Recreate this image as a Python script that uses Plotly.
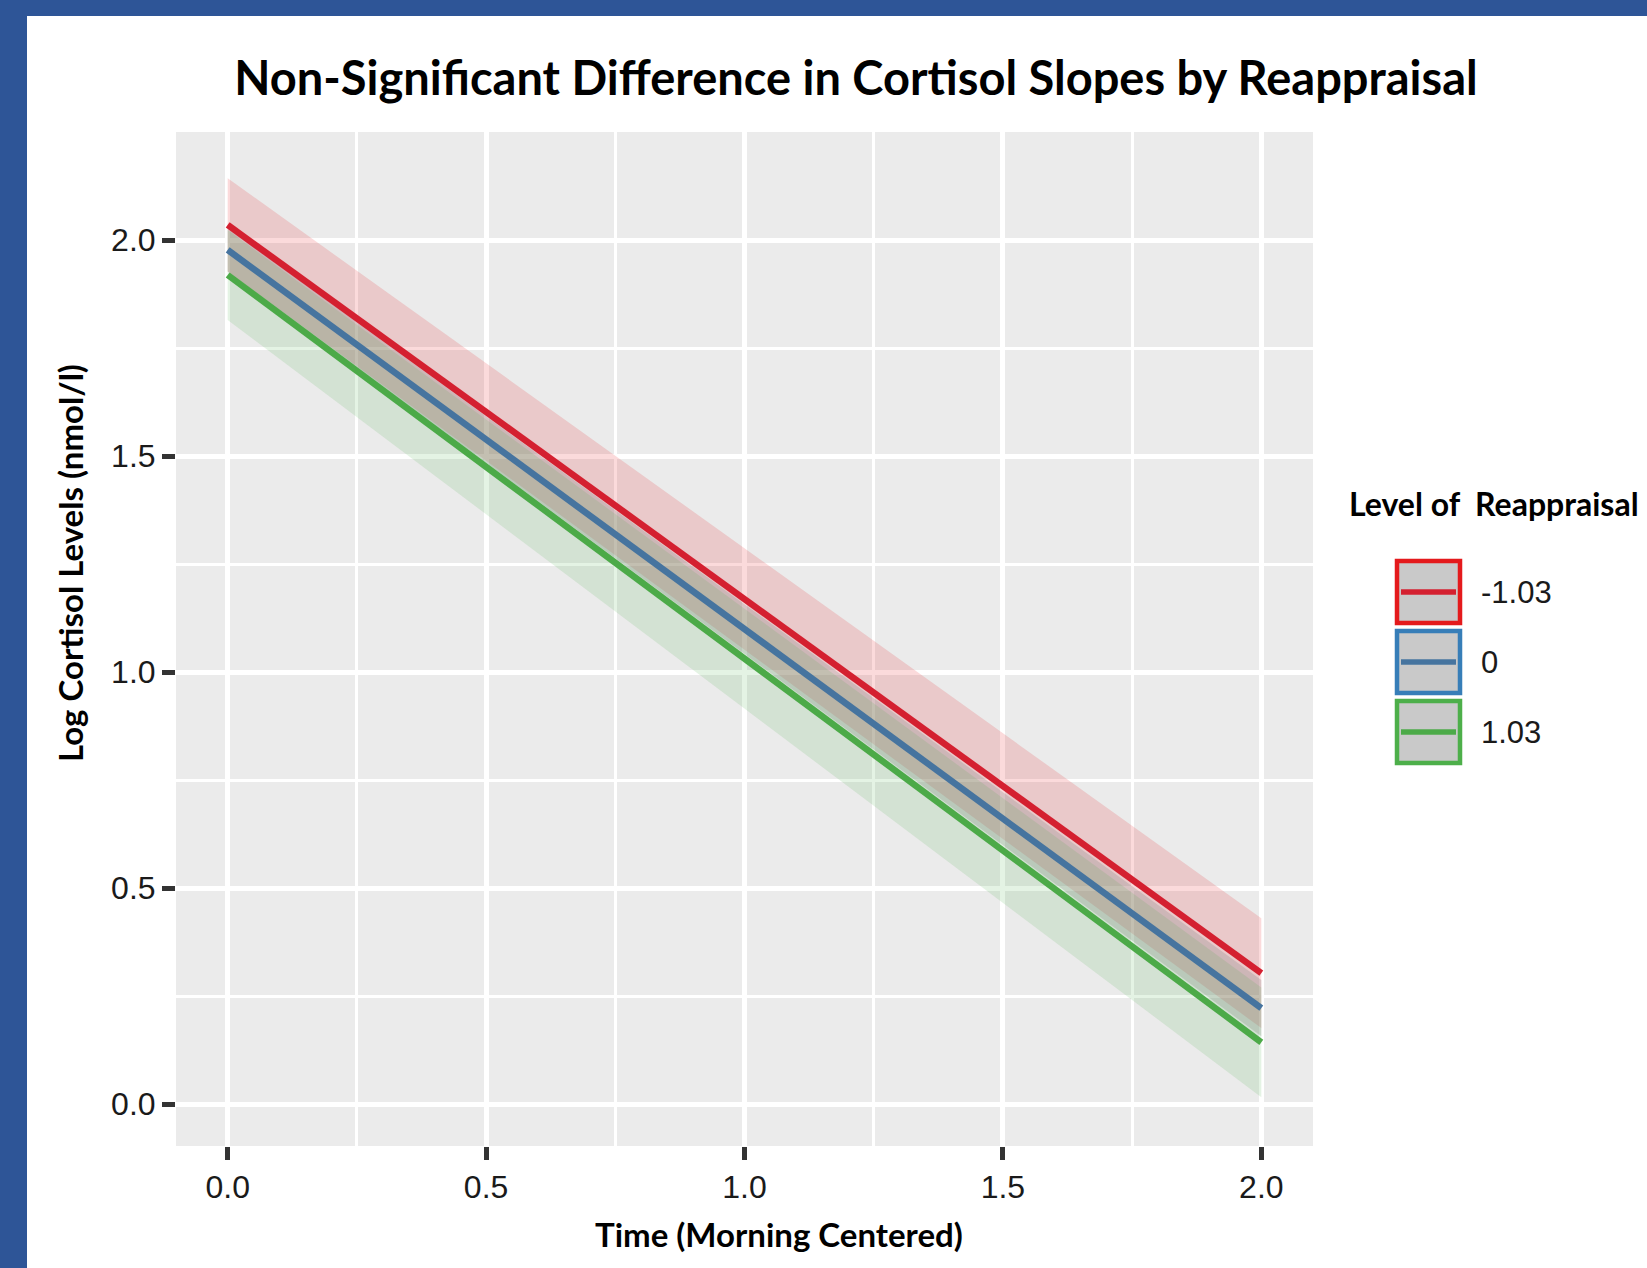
import plotly.graph_objects as go

# ---- data ----
times = [0.0, 2.0]
levels = ["-1.03", "0", "1.03"]
fit_red = [2.035, 0.303]
fit_blue = [1.977, 0.222]
fit_green = [1.919, 0.143]
se_red = [0.108, 0.127]
se_blue = [0.05, 0.065]
se_green = [0.104, 0.127]

x_ticks = [0.0, 0.5, 1.0, 1.5, 2.0]
x_tick_text = ["0.0", "0.5", "1.0", "1.5", "2.0"]
y_ticks = [0.0, 0.5, 1.0, 1.5, 2.0]
y_tick_text = ["0.0", "0.5", "1.0", "1.5", "2.0"]

line_colors = ["#D42030", "#46749F", "#4CAA48"]
key_border = ["#E41A1C", "#377EB8", "#4DAF4A"]
ribbon_fills = ["rgba(228,26,28,0.16)", "rgba(140,140,140,0.30)", "rgba(77,175,74,0.15)"]

fits = [fit_red, fit_blue, fit_green]
ses = [se_red, se_blue, se_green]

W, H = 1647, 1268
ML, MR, MT, MB = 176, W - 1313, 132, H - 1146
PW, PH = W - ML - MR, H - MT - MB


def px(xp):
    return (xp - ML) / PW


def py(yp):
    return (H - MB - yp) / PH


fig = go.Figure()

for fit, se, fc in zip(fits, ses, ribbon_fills):
    upper = [f + s for f, s in zip(fit, se)]
    lower = [f - s for f, s in zip(fit, se)]
    fig.add_trace(go.Scatter(
        x=times + times[::-1], y=upper + lower[::-1],
        fill="toself", fillcolor=fc, line=dict(width=0),
        mode="lines", hoverinfo="skip", showlegend=False))

for fit, lc, name in zip(fits, line_colors, levels):
    fig.add_trace(go.Scatter(x=times, y=fit, mode="lines",
                             line=dict(color=lc, width=6.5), name=name,
                             showlegend=False))

shapes = []
# blue frame
shapes.append(dict(type="rect", xref="paper", yref="paper", x0=px(0), x1=px(27),
                   y0=py(H), y1=py(0), fillcolor="#2E5597", line=dict(width=0), layer="above"))
shapes.append(dict(type="rect", xref="paper", yref="paper", x0=px(0), x1=px(W),
                   y0=py(16), y1=py(0), fillcolor="#2E5597", line=dict(width=0), layer="above"))

annotations = []
# legend (manual keys)
key_tops = [559, 629, 699]
key_h = 66
for i, (lab, bc, lc) in enumerate(zip(levels, key_border, line_colors)):
    t = key_tops[i]
    shapes.append(dict(type="rect", xref="paper", yref="paper",
                       x0=px(1397), x1=px(1460), y0=py(t + key_h - 2), y1=py(t + 2),
                       fillcolor="#C9C9C9", line=dict(color=bc, width=4.5), layer="above"))
    cy = t + key_h / 2
    shapes.append(dict(type="line", xref="paper", yref="paper",
                       x0=px(1401), x1=px(1456), y0=py(cy), y1=py(cy),
                       line=dict(color=lc, width=5.5), layer="above"))
    annotations.append(dict(text=lab, xref="paper", yref="paper", x=px(1479), y=py(cy),
                            xanchor="left", yanchor="middle", showarrow=False,
                            font=dict(family="Liberation Sans", size=31, color="#1a1a1a")))

annotations.append(dict(text="Level of\u00a0\u00a0Reappraisal", xref="paper", yref="paper",
                        x=px(1347), y=py(503), xanchor="left", yanchor="middle", showarrow=False,
                        font=dict(family="Lato", size=32, color="#000000", weight="bold")))

# axis titles
annotations.append(dict(text="Time (Morning Centered)", xref="paper", yref="paper",
                        x=px(779), y=py(1234), xanchor="center", yanchor="middle", showarrow=False,
                        font=dict(family="Lato", size=33, color="#000000", weight="bold")))
annotations.append(dict(text="Log Cortisol Levels (nmol/l)", xref="paper", yref="paper",
                        x=px(70), y=py(563), xanchor="center", yanchor="middle", showarrow=False,
                        textangle=-90,
                        font=dict(family="Lato", size=33, color="#000000", weight="bold")))

fig.update_layout(
    width=W, height=H,
    margin=dict(l=ML, r=MR, t=MT, b=MB),
    paper_bgcolor="white", plot_bgcolor="#EBEBEB",
    title=dict(text="Non-Significant Difference in Cortisol Slopes by Reappraisal",
               x=856 / W, xanchor="center", y=1 - 79 / H, yanchor="middle",
               font=dict(family="Lato", size=47, color="#000000", weight="bold")),
    shapes=shapes, annotations=annotations, showlegend=False,
)

fig.update_xaxes(range=[-0.1, 2.1], tickvals=x_ticks, ticktext=x_tick_text,
                 showgrid=True, gridcolor="white", gridwidth=4.5, zeroline=False,
                 ticks="outside", ticklen=13, tickwidth=4.5, tickcolor="#333333",
                 tickfont=dict(family="Liberation Sans", size=32, color="#1a1a1a"),
                 minor=dict(tickvals=[0.25, 0.75, 1.25, 1.75], showgrid=True,
                            gridcolor="white", gridwidth=2.5, ticks=""),
                 showline=False)
fig.update_yaxes(range=[-0.097, 2.25], tickvals=y_ticks, ticktext=y_tick_text,
                 showgrid=True, gridcolor="white", gridwidth=4.5, zeroline=False,
                 ticks="outside", ticklen=13, tickwidth=4.5, tickcolor="#333333",
                 tickfont=dict(family="Liberation Sans", size=32, color="#1a1a1a"),
                 minor=dict(tickvals=[0.25, 0.75, 1.25, 1.75], showgrid=True,
                            gridcolor="white", gridwidth=2.5, ticks=""),
                 showline=False)

fig.write_html("out.html", config={"displayModeBar": False},
               post_script="document.body.style.margin='0';document.body.style.overflow='hidden';")
